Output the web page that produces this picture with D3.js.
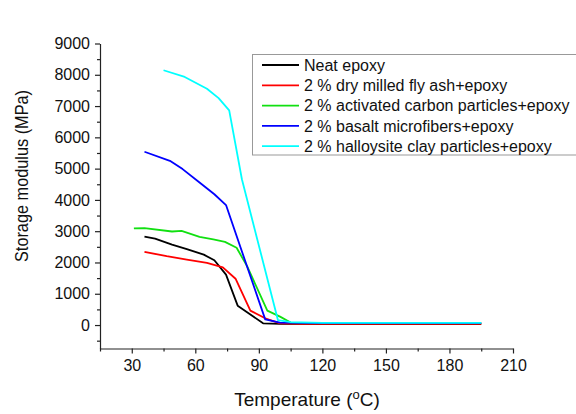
<!DOCTYPE html>
<html><head><meta charset="utf-8">
<script src="https://cdn.jsdelivr.net/npm/d3@7"></script>
<style>body{margin:0;background:#fff}svg{display:block}text{font-family:"Liberation Sans",Arial,sans-serif;fill:#111}</style>
</head><body><svg id="c" width="576" height="414"></svg>
<script>
const seriesNames = ["Neat epoxy","2 % dry milled fly ash+epoxy","2 % activated carbon particles+epoxy","2 % basalt microfibers+epoxy","2 % halloysite clay particles+epoxy"];
const seriesColors = ["#000000","#ff0000","#11e011","#0000ff","#00ffff"];
const neatT = [36,41,49,56,64,69,74.5,80,92,100,120,140,160,180,195];
const neatE = [2830,2765,2570,2430,2250,2070,1610,620,55,40,30,30,30,30,30];
const flyT = [36,46.5,56,65.5,73,79,86,93,100,110,130,150,170,195];
const flyE = [2340,2200,2090,1985,1845,1480,460,215,55,40,40,40,40,40];
const carbonT = [31,36,49,53.5,62,68.5,74,79.5,84.5,94,100,105,120,150,195];
const carbonE = [3090,3100,2990,3010,2820,2735,2660,2470,1875,460,270,80,60,60,60];
const basaltT = [36,48,54,62,69,74.5,93,100,120,195];
const basaltE = [5540,5250,4985,4555,4180,3835,180,75,60,60];
const hallT = [45,55,65.5,71,76,82,99,105,120,195];
const hallE = [8145,7930,7555,7255,6860,4660,160,90,70,70];
const xTicks = [30,60,90,120,150,180,210];
const yTicks = [0,1000,2000,3000,4000,5000,6000,7000,8000,9000];

const series = [[neatT,neatE],[flyT,flyE],[carbonT,carbonE],[basaltT,basaltE],[hallT,hallE]];
const svg = d3.select("#c");
const x = d3.scaleLinear().domain([15,210]).range([100,513]);
const y = d3.scaleLinear().domain([-750,9000]).range([348.5,43.5]);

const xMinor = d3.range(15,211,15).filter(v=>!xTicks.includes(v));
const yMinor = d3.range(-500,9001,500).filter(v=>!yTicks.includes(v));
const gx = svg.append("g").attr("transform","translate(0,348.5)");
gx.call(d3.axisBottom(x).tickValues(xMinor).tickSize(3).tickFormat(""));
gx.call(g=>g.select(".domain").remove());
const gx2 = svg.append("g").attr("transform","translate(0,348.5)");
gx2.call(d3.axisBottom(x).tickValues(xTicks).tickSize(5).tickSizeOuter(0).tickPadding(6));
gx2.selectAll("text").attr("font-size",16).style("font-family","'Liberation Sans',Arial,sans-serif").attr("fill","#111");
const gy = svg.append("g").attr("transform","translate(100,0)");
gy.call(d3.axisLeft(y).tickValues(yMinor).tickSize(3).tickFormat(""));
gy.call(g=>g.select(".domain").remove());
const gy2 = svg.append("g").attr("transform","translate(100,0)");
gy2.call(d3.axisLeft(y).tickValues(yTicks).tickSize(5).tickSizeOuter(0).tickPadding(5).tickFormat(d3.format("d")));
gy2.selectAll("text").attr("font-size",16).style("font-family","'Liberation Sans',Arial,sans-serif").attr("fill","#111");
svg.selectAll(".domain, .tick line").attr("stroke","#222").attr("stroke-width",1.2);

const line = d3.line().x(d=>x(d[0])).y(d=>y(d[1]));
series.forEach((s,i)=>{
  const pts = s[0].map((t,j)=>[t,s[1][j]]);
  svg.append("path").datum(pts).attr("d",line).attr("fill","none")
    .attr("stroke",seriesColors[i]).attr("stroke-width",1.8).attr("stroke-linejoin","round");
});

const lg = svg.append("g");
lg.append("rect").attr("x",252.5).attr("y",54.5).attr("width",340).attr("height",100.5)
  .attr("fill","#fff").attr("stroke","#999").attr("stroke-width",1);
seriesNames.forEach((n,i)=>{
  const yy = 65 + i*20.3;
  lg.append("line").attr("x1",262).attr("x2",299).attr("y1",yy).attr("y2",yy)
    .attr("stroke",seriesColors[i]).attr("stroke-width",1.8);
  lg.append("text").attr("x",304).attr("y",yy).attr("dy","0.35em").attr("font-size",16).text(n);
});

const xt = svg.append("text").attr("x",307).attr("y",406).attr("text-anchor","middle").attr("font-size",19);
xt.append("tspan").text("Temperature (");
xt.append("tspan").attr("font-size",13).attr("dy",-7).text("o");
xt.append("tspan").attr("dy",7).text("C)");
svg.append("text").attr("transform","translate(28,176) rotate(-90)").attr("text-anchor","middle")
  .attr("font-size",18.5).attr("textLength",172).attr("lengthAdjust","spacingAndGlyphs").text("Storage modulus (MPa)");
</script></body></html>
